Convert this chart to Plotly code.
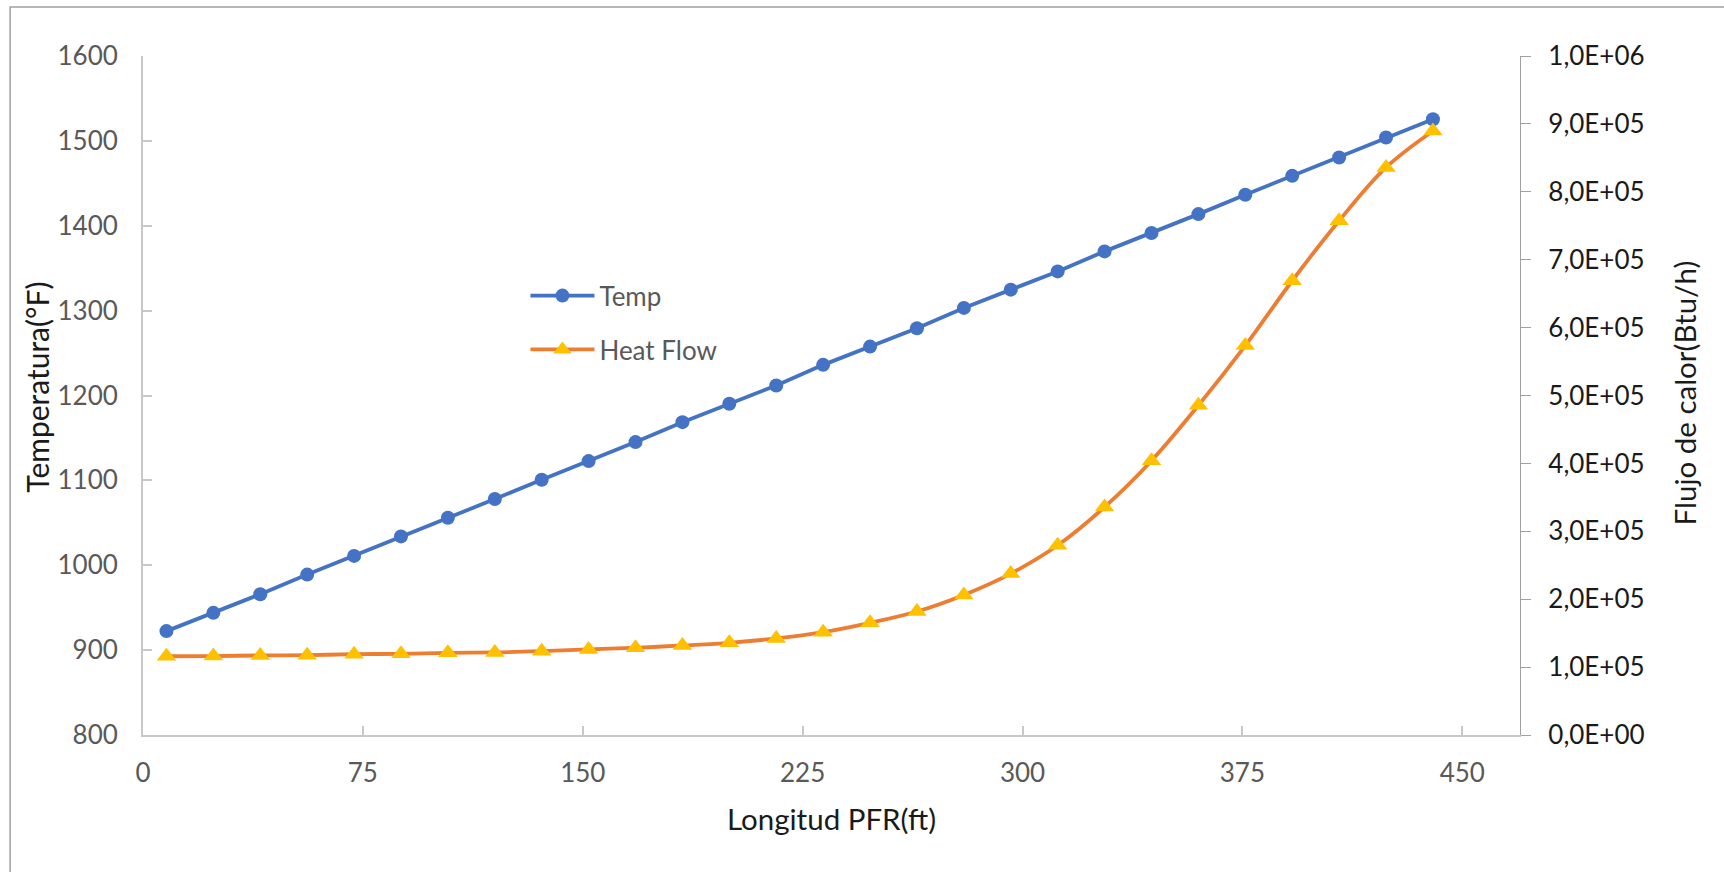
import plotly.graph_objects as go

# ---- data ----
longitud_ft = [8, 24, 40, 56, 72, 88, 104, 120, 136, 152, 168, 184, 200, 216,
               232, 248, 264, 280, 296, 312, 328, 344, 360, 376, 392, 408, 424, 440]
temp_F = [922.4, 943.9, 965.9, 989.0, 1011.0, 1034.0, 1056.0, 1078.0, 1100.8, 1122.7,
          1145.1, 1168.6, 1190.2, 1211.8, 1236.1, 1257.6, 1279.2, 1303.2, 1324.7, 1346.2,
          1369.8, 1391.4, 1413.7, 1436.5, 1458.8, 1480.4, 1503.9, 1525.5]
heat_flow_btu_h = [116000, 116300, 117200, 117600, 119000, 119600, 121000, 121600, 123500, 126000,
                   128400, 131900, 135800, 142200, 151500, 165200, 181900, 206300, 237700, 279400,
                   335800, 404000, 485500, 573500, 669000, 757400, 835800, 889500]

y2_tickvals = [0, 100000, 200000, 300000, 400000, 500000, 600000, 700000, 800000, 900000, 1000000]
y2_ticktext = ["0,0E+00", "1,0E+05", "2,0E+05", "3,0E+05", "4,0E+05", "5,0E+05",
               "6,0E+05", "7,0E+05", "8,0E+05", "9,0E+05", "1,0E+06"]

FONT = "Lato, 'Liberation Sans', Arial, sans-serif"
GRAY_TXT = "#595959"
DARK_TXT = "#1a1a1a"

fig = go.Figure()

fig.add_trace(go.Scatter(
    x=longitud_ft, y=temp_F, name="Temp", mode="lines+markers",
    line=dict(color="#4472C4", width=3.8),
    marker=dict(symbol="circle", size=14, color="#4472C4"),
    legendgroup="a", yaxis="y"))

fig.add_trace(go.Scatter(
    x=longitud_ft, y=heat_flow_btu_h, name="Heat Flow", mode="lines+markers",
    line=dict(color="#ED7D31", width=3.8, shape="spline", smoothing=1.0),
    marker=dict(symbol="triangle-up", size=17, color="#FFC000"),
    legendgroup="b", yaxis="y2"))

W, H = 1724, 872
L, R, T, B = 142.5, 1519.7, 55.7, 735.0


def px_x(p):
    return (p - L) / (R - L)


def px_y(p):
    return (B - p) / (B - T)


fig.update_layout(
    width=W, height=H, autosize=False,
    margin=dict(l=L, r=W - R, t=T, b=H - B, pad=0),
    paper_bgcolor="white", plot_bgcolor="white",
    font=dict(family=FONT, size=26, color=GRAY_TXT),
    showlegend=True,
    legend=dict(x=px_x(525), y=px_y(272), xanchor="left", yanchor="top",
                bgcolor="rgba(0,0,0,0)", borderwidth=0,
                font=dict(family=FONT, size=26, color=GRAY_TXT),
                tracegroupgap=17, itemwidth=64),
    xaxis=dict(
        range=[0, 469.7], tick0=0, dtick=75, showgrid=False, zeroline=False,
        showline=True, linecolor="#c8c8c8", linewidth=2,
        ticks="inside", ticklen=9, tickwidth=2, tickcolor="#c8c8c8",
        tickfont=dict(family=FONT, size=26, color=GRAY_TXT),
        ticklabelstandoff=14,
        title=dict(text="Longitud PFR(ft)", standoff=22,
                   font=dict(family=FONT, size=29.5, color=DARK_TXT)),
        automargin=False),
    yaxis=dict(
        range=[800, 1600], tick0=800, dtick=100, showgrid=False, zeroline=False,
        showline=True, linecolor="#c8c8c8", linewidth=2,
        ticks="inside", ticklen=9, tickwidth=2, tickcolor="#c8c8c8",
        tickfont=dict(family=FONT, size=26, color=GRAY_TXT),
        ticklabelstandoff=18,
        automargin=False),
    yaxis2=dict(
        overlaying="y", side="right", range=[0, 1000000],
        tickmode="array", tickvals=y2_tickvals, ticktext=y2_ticktext,
        showgrid=False, zeroline=False,
        showline=True, linecolor="#a0a0a0", linewidth=1.2,
        ticks="outside", ticklen=10, tickwidth=1.2, tickcolor="#a0a0a0",
        tickfont=dict(family=FONT, size=26, color=DARK_TXT),
        ticklabelstandoff=12,
        automargin=False),
    annotations=[
        dict(text="Temperatura(°F)", xref="paper", yref="paper",
             x=px_x(37), y=px_y(387), xanchor="center", yanchor="middle",
             textangle=-90, showarrow=False,
             font=dict(family=FONT, size=30, color=DARK_TXT)),
        dict(text="Flujo de calor(Btu/h)", xref="paper", yref="paper",
             x=px_x(1684), y=px_y(393), xanchor="center", yanchor="middle",
             textangle=-90, showarrow=False,
             font=dict(family=FONT, size=29.5, color=DARK_TXT)),
    ],
    shapes=[dict(type="rect", xref="paper", yref="paper",
                 x0=px_x(9.6), x1=1.3,
                 y0=-0.5, y1=px_y(6.7),
                 line=dict(color="#a0a0a0", width=1.5), fillcolor="rgba(0,0,0,0)",
                 layer="below")],
)

fig.write_html("out.html")
